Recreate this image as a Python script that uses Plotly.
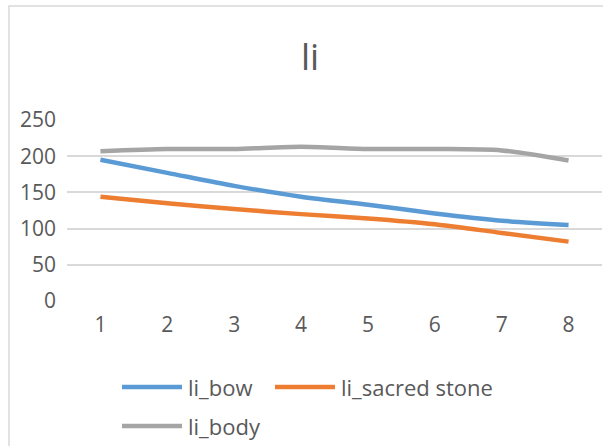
import plotly.graph_objects as go

# Category positions and the three series
categories = [1, 2, 3, 4, 5, 6, 7, 8]
li_bow = [195, 177, 159, 144, 133, 121, 111, 105]
li_sacred_stone = [144, 135, 127, 120, 114, 106, 94, 82]
li_body = [207, 210, 210, 213, 210, 210, 208, 194]
y_ticks = [0, 50, 100, 150, 200, 250]

series_names = ["li_bow", "li_sacred stone", "li_body"]
series_values = [li_bow, li_sacred_stone, li_body]
series_colors = ["#5B9BD5", "#ED7D31", "#A5A5A5"]

W, H = 603, 446
L, R, T, B = 67, 1, 120, 145
PW, PH = W - L - R, H - T - B

FONT = "Open Sans"
TXT = "#595959"
FS = 21
FS_LEGEND = 22

fig = go.Figure()
for name, vals, col in zip(series_names, series_values, series_colors):
    fig.add_trace(go.Scatter(
        x=categories, y=vals, name=name, mode="lines",
        line=dict(color=col, width=4.5, shape="spline", smoothing=0.8),
        showlegend=False,
    ))


def px_x(px):
    return (px - L) / PW


def px_y(py):
    return (H - B - py) / PH


shapes = [
    # chart-area border (extends past the visible window on right/bottom)
    dict(type="rect", xref="paper", yref="paper",
         x0=px_x(9), x1=px_x(700), y0=px_y(560), y1=px_y(6),
         line=dict(color="#D9D9D9", width=1.5), fillcolor="rgba(0,0,0,0)",
         layer="below"),
]
annotations = []

# Legend drawn as line swatches with labels
legend_items = [
    (series_names[0], series_colors[0], 122, 387),
    (series_names[1], series_colors[1], 275, 387),
    (series_names[2], series_colors[2], 122, 426),
]
for name, col, lx, ly in legend_items:
    shapes.append(dict(type="line", xref="paper", yref="paper",
                       x0=px_x(lx), x1=px_x(lx + 60), y0=px_y(ly), y1=px_y(ly),
                       line=dict(color=col, width=4.5)))
    annotations.append(dict(xref="paper", yref="paper", x=px_x(lx + 64), y=px_y(ly),
                            text=name, showarrow=False, xanchor="left", yanchor="middle",
                            font=dict(family=FONT, size=FS_LEGEND, color=TXT)))

fig.update_layout(
    width=W, height=H,
    margin=dict(l=L, r=R, t=T, b=B, pad=0),
    paper_bgcolor="white", plot_bgcolor="white",
    title=dict(text="li", x=310 / W, xref="container", xanchor="center",
               y=1 - 57 / H, yref="container", yanchor="middle",
               font=dict(family=FONT, size=36, color=TXT)),
    xaxis=dict(range=[0.5, 8.5], tickvals=categories, showgrid=False, zeroline=False,
               showline=False, ticks="", tickfont=dict(family=FONT, size=FS, color=TXT),
               ticklabelstandoff=9),
    yaxis=dict(range=[0, 250], tickvals=y_ticks, showgrid=True, gridcolor="#D9D9D9",
               gridwidth=1.5, zeroline=False, showline=False, ticks="",
               tickfont=dict(family=FONT, size=FS, color=TXT), ticklabelstandoff=10),
    shapes=shapes, annotations=annotations,
)

fig.write_html("out.html")
